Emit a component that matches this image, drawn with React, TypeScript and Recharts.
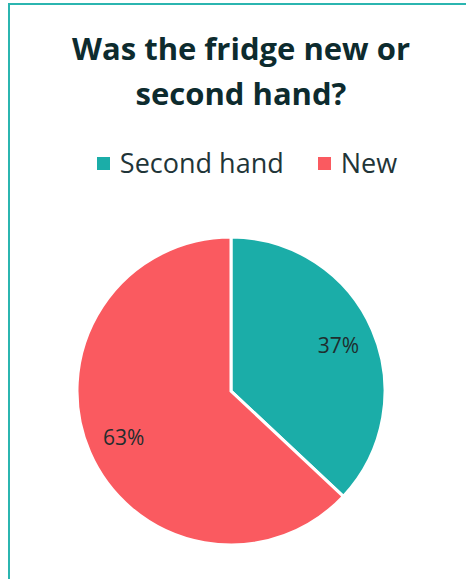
import { Cell, Pie, PieChart } from 'recharts';

const categories = ['Second hand', 'New'];
const shares = [37, 63];
const colors = ['#1BADA8', '#FA5A60'];
const titleLines = ['Was the fridge new or', 'second hand?'];

const data = categories.map((name, i) => ({ name, value: shares[i] }));

const RAD = Math.PI / 180;
const font = "'Open Sans', sans-serif";

const renderLabel = ({ cx, cy, midAngle, outerRadius, value }: any) => {
  const r = outerRadius * 0.76;
  const x = cx + r * Math.cos(-midAngle * RAD);
  const y = cy + r * Math.sin(-midAngle * RAD);
  return (
    <text x={x} y={y} fill="#1f2d2e" textAnchor="middle" dominantBaseline="central" fontSize={21} fontFamily={font}>
      {`${value}%`}
    </text>
  );
};

export default function App() {
  return (
    <div style={{ position: 'absolute', left: 0, top: 0, width: 466, height: 579, background: '#fff', overflow: 'hidden' }}>
      <div
        style={{
          position: 'absolute',
          left: 8,
          top: 3,
          width: 470,
          height: 590,
          borderTop: '2px solid #2BB5B0',
          borderLeft: '2px solid #2BB5B0',
        }}
      />
      <div
        style={{
          position: 'absolute',
          left: 8,
          top: 26,
          width: 466,
          textAlign: 'center',
          fontFamily: font,
          fontWeight: 700,
          fontSize: 31,
          lineHeight: '45px',
          color: '#0d2b2e',
        }}
      >
        {titleLines.map((t) => (
          <div key={t}>{t}</div>
        ))}
      </div>
      <div
        style={{
          position: 'absolute',
          left: 0,
          top: 144,
          width: 494,
          display: 'flex',
          justifyContent: 'center',
          fontFamily: font,
          fontSize: 27,
          lineHeight: '38px',
          color: '#1f3538',
        }}
      >
        {data.map((d, i) => (
          <div key={d.name} style={{ display: 'flex', alignItems: 'center', marginRight: i === 0 ? 34 : 0 }}>
            <span style={{ width: 13, height: 13, background: colors[i], marginRight: 10, display: 'inline-block' }} />
            <span>{d.name}</span>
          </div>
        ))}
      </div>
      <div style={{ position: 'absolute', left: 0, top: 0 }}>
        <PieChart width={466} height={579} margin={{ top: 0, right: 0, bottom: 0, left: 0 }}>
          <Pie
            data={data}
            dataKey="value"
            nameKey="name"
            cx={231}
            cy={391}
            outerRadius={154}
            startAngle={90}
            endAngle={-270}
            stroke="#fff"
            strokeWidth={3}
            label={renderLabel}
            labelLine={false}
            isAnimationActive={false}
          >
            {data.map((d, i) => (
              <Cell key={d.name} fill={colors[i]} />
            ))}
          </Pie>
        </PieChart>
      </div>
    </div>
  );
}
